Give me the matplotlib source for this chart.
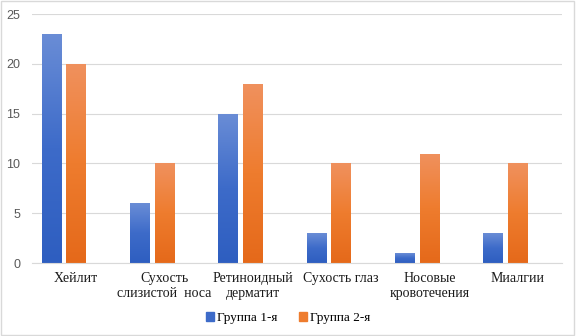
import matplotlib.pyplot as plt
import numpy as np
from matplotlib.colors import LinearSegmentedColormap
from matplotlib.patches import Rectangle

categories = ["Хейлит", "Сухость\nслизистой  носа", "Ретиноидный\nдерматит",
              "Сухость глаз", "Носовые\nкровотечения", "Миалгии"]
group1 = [23, 6, 15, 3, 1, 3]
group2 = [20, 10, 18, 10, 11, 10]
series_names = ["Группа 1-я", "Группа 2-я"]

# light at top, dark at bottom (Excel-like gradient)
blue_grad = ("#2e5ec0", "#3d6bc9", "#6a8dd6")
orange_grad = ("#e5691a", "#ee7c2e", "#f0915e")


def gradient_bars(ax, bars, colors):
    cmap = LinearSegmentedColormap.from_list("g", colors)
    grad = np.linspace(0, 1, 256).reshape(-1, 1)
    for b in bars:
        x0, y0 = b.get_x(), b.get_y()
        w, h = b.get_width(), b.get_height()
        if h <= 0:
            continue
        im = ax.imshow(grad, cmap=cmap, origin="lower", aspect="auto",
                       extent=(x0, x0 + w, y0, y0 + h), zorder=2)
        im.set_clip_path(b)
        b.set_facecolor("none")


def main() -> None:
    fig = plt.figure(figsize=(5.76, 3.36), dpi=100)
    ax = fig.add_axes([0.0556, 0.217, 0.92, 0.741])

    x = np.arange(len(categories))
    w = 0.225
    off = 0.278
    b1 = ax.bar(x - off, group1, w, color=blue_grad[0], zorder=2, linewidth=0)
    b2 = ax.bar(x, group2, w, color=orange_grad[0], zorder=2, linewidth=0)
    gradient_bars(ax, b1, blue_grad)
    gradient_bars(ax, b2, orange_grad)

    ax.set_xlim(-0.5, len(categories) - 0.5)
    ax.set_ylim(0, 25)
    ax.set_yticks(range(0, 26, 5))
    ax.yaxis.grid(True, color="#d9d9d9", lw=0.8, zorder=0)
    ax.set_axisbelow(True)
    for s in ["top", "right", "left"]:
        ax.spines[s].set_visible(False)
    ax.spines["bottom"].set_color("#d9d9d9")
    ax.tick_params(axis="y", length=0, pad=8.5, labelsize=9, labelcolor="#595959")
    ax.tick_params(axis="x", length=0, pad=6.5)
    for t in ax.get_yticklabels():
        t.set_family("Liberation Sans")
    ax.set_xticks(x)
    ax.set_xticklabels(categories, family="Liberation Serif", fontsize=10,
                       color="#1a1a1a", linespacing=1.2)

    handles = [Rectangle((0, 0), 1, 1, color=blue_grad[1]),
               Rectangle((0, 0), 1, 1, color=orange_grad[1])]
    fig.legend(handles, series_names, loc="center", bbox_to_anchor=(0.5, 0.053),
               ncol=2, frameon=False, handlelength=0.6, handleheight=0.6,
               handletextpad=0.25, columnspacing=1.6,
               prop={"family": "Liberation Serif", "size": 9.5})

    fig.patches.append(Rectangle((0.002, 0.003), 0.995, 0.994, transform=fig.transFigure,
                                 fill=False, edgecolor="#d9d9d9", lw=1))
    fig.savefig("out.png", dpi=100)


if __name__ == "__main__":
    main()
